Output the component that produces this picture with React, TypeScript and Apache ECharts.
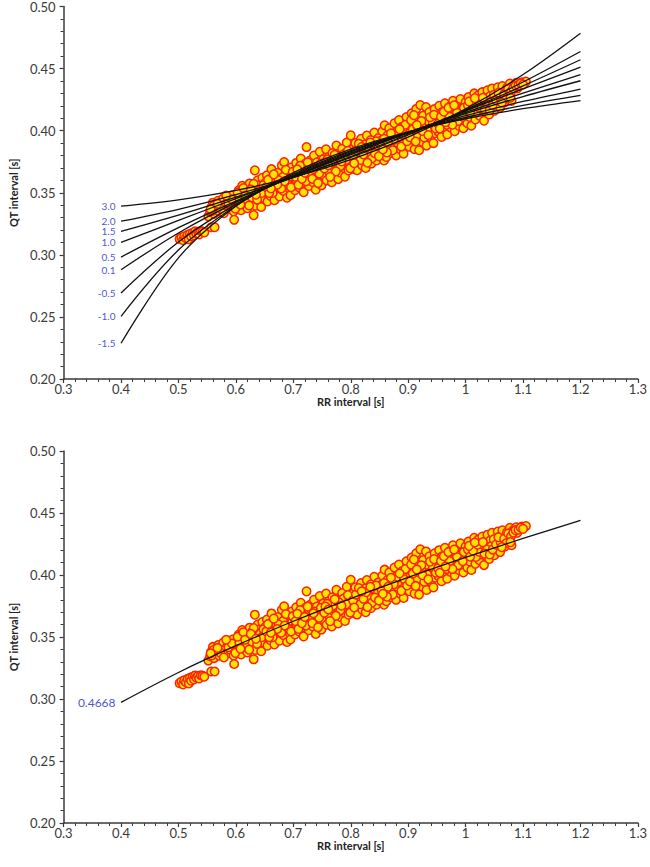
import React, { useEffect, useRef } from "react";
import * as echarts from "echarts";

// RR grid on which the fitted curves were read
const RR_GRID = [0.4, 0.5, 0.6, 0.7, 0.8, 0.9, 1.0, 1.1, 1.2];

// Top panel: curve labels (exponent) and QT values read at RR_GRID
const CURVE_LABELS = ["3.0", "2.0", "1.5", "1.0", "0.5", "0.1", "-0.5", "-1.0", "-1.5"];
const CURVE_3_0 = [0.3392, 0.3443, 0.3519, 0.3625, 0.3767, 0.3948, 0.4175, 0.4452, 0.4785];
const CURVE_2_0 = [0.3271, 0.3367, 0.3485, 0.3623, 0.3784, 0.3965, 0.4168, 0.4392, 0.4638];
const CURVE_1_5 = [0.3188, 0.3319, 0.3464, 0.3621, 0.3791, 0.3971, 0.4161, 0.4361, 0.4571];
const CURVE_1_0 = [0.31, 0.3277, 0.3453, 0.363, 0.3806, 0.3983, 0.4159, 0.4336, 0.4512];
const CURVE_0_5 = [0.2982, 0.3219, 0.3433, 0.363, 0.3813, 0.3985, 0.4148, 0.4303, 0.4451];
const CURVE_0_1 = [0.288, 0.3176, 0.3422, 0.3634, 0.3821, 0.3987, 0.4138, 0.4275, 0.4402];
const CURVE_M0_5 = [0.2693, 0.3103, 0.3406, 0.3641, 0.3831, 0.3988, 0.4121, 0.4235, 0.4335];
const CURVE_M1_0 = [0.2505, 0.3039, 0.3395, 0.3649, 0.3839, 0.3988, 0.4106, 0.4203, 0.4284];
const CURVE_M1_5 = [0.2288, 0.2976, 0.3391, 0.3662, 0.3852, 0.3991, 0.4096, 0.4177, 0.4242];
const CURVES = [CURVE_3_0, CURVE_2_0, CURVE_1_5, CURVE_1_0, CURVE_0_5, CURVE_0_1, CURVE_M0_5, CURVE_M1_0, CURVE_M1_5];

// Bottom panel: single fitted curve
const FIT_LABEL = "0.4668";
const FIT_CURVE = [0.2973, 0.3214, 0.343, 0.3627, 0.381, 0.3981, 0.4142, 0.4295, 0.4441];

// Axis ticks
const X_MIN = 0.3, X_MAX = 1.3, X_STEP = 0.1;
const Y_MIN = 0.2, Y_MAX = 0.5, Y_STEP = 0.05;

// Observed beats: [RR, QT]
const BEATS_A: number[][] = [
  [0.502,0.3128],[0.505,0.3140],[0.508,0.3118],[0.510,0.3150],[0.513,0.3135],[0.516,0.3162],[0.518,0.3125],[0.520,0.3170],[0.522,0.3148],[0.525,0.3180],[0.527,0.3158],[0.529,0.3190],[0.531,0.3172],[0.534,0.3186],[0.536,0.3165],[0.539,0.3192],[0.542,0.3188],[0.545,0.3180],[0.557,0.3222],[0.563,0.3222],
  [0.552,0.3310],[0.555,0.3345],[0.557,0.3380],[0.560,0.3420],[0.562,0.3330],[0.565,0.3365],[0.566,0.3400],[0.569,0.3435],[0.571,0.3350],[0.574,0.3390],[0.576,0.3420],[0.578,0.3455],[0.580,0.3370],[0.582,0.3405],[0.585,0.3368],[0.586,0.3440],[0.588,0.3460],[0.590,0.3395],[0.592,0.3425],[0.594,0.3480],[0.596,0.3350],[0.597,0.3282],[0.598,0.3410],[0.600,0.3450],
  [0.602,0.3385],[0.604,0.3470],[0.605,0.3520],[0.607,0.3420],[0.609,0.3360],[0.611,0.3556],[0.612,0.3445],[0.614,0.3490],[0.615,0.3400],[0.617,0.3530],[0.619,0.3460],[0.620,0.3375],[0.622,0.3505],[0.624,0.3575],[0.625,0.3425],[0.627,0.3480],[0.629,0.3545],[0.631,0.3320],[0.632,0.3455],[0.633,0.3680],[0.634,0.3395],[0.636,0.3510],[0.638,0.3600],[0.639,0.3440],[0.641,0.3560],[0.643,0.3480],[0.644,0.3385],[0.646,0.3620],[0.647,0.3530],[0.649,0.3455],
  [0.651,0.3580],[0.652,0.3500],[0.654,0.3640],[0.655,0.3430],[0.657,0.3545],[0.659,0.3610],[0.660,0.3475],[0.662,0.3690],[0.663,0.3560],[0.665,0.3520],[0.667,0.3440],[0.668,0.3625],[0.670,0.3590],[0.671,0.3500],[0.673,0.3660],[0.675,0.3545],[0.676,0.3470],[0.678,0.3610],[0.680,0.3720],[0.681,0.3580],[0.683,0.3515],[0.684,0.3748],[0.686,0.3640],[0.688,0.3560],[0.689,0.3460],[0.691,0.3680],[0.693,0.3600],[0.694,0.3530],[0.695,0.3480],[0.697,0.3705],[0.698,0.3625],[0.700,0.3570],
  [0.702,0.3650],[0.703,0.3520],[0.705,0.3740],[0.706,0.3595],[0.708,0.3680],[0.710,0.3545],[0.711,0.3625],[0.713,0.3775],[0.714,0.3700],[0.716,0.3580],[0.718,0.3505],[0.719,0.3650],[0.721,0.3735],[0.723,0.3868],[0.724,0.3610],[0.726,0.3690],[0.727,0.3555],[0.729,0.3760],[0.731,0.3640],[0.732,0.3720],[0.734,0.3585],[0.736,0.3800],[0.737,0.3670],[0.739,0.3525],[0.741,0.3745],[0.742,0.3620],[0.744,0.3700],[0.746,0.3830],[0.747,0.3595],[0.749,0.3560],[0.750,0.3680],
  [0.752,0.3770],[0.753,0.3640],[0.755,0.3720],[0.757,0.3850],[0.758,0.3600],[0.760,0.3690],[0.762,0.3790],[0.763,0.3660],[0.765,0.3745],[0.767,0.3585],[0.768,0.3820],[0.770,0.3710],[0.771,0.3640],[0.773,0.3775],[0.775,0.3880],[0.776,0.3690],[0.778,0.3610],[0.780,0.3800],[0.781,0.3735],[0.783,0.3660],[0.785,0.3855],[0.786,0.3760],[0.788,0.3700],[0.790,0.3630],[0.791,0.3820],[0.793,0.3905],[0.794,0.3740],[0.796,0.3680],[0.798,0.3790],[0.800,0.3962],
  [0.802,0.3720],[0.803,0.3850],[0.805,0.3770],[0.807,0.3690],[0.808,0.3900],[0.810,0.3810],[0.811,0.3681],[0.813,0.3745],[0.815,0.3870],[0.816,0.3800],[0.818,0.3935],[0.820,0.3720],[0.821,0.3840],[0.823,0.3780],[0.825,0.3890],[0.826,0.3700],[0.828,0.3960],[0.830,0.3815],[0.831,0.3755],[0.833,0.3870],[0.835,0.3925],[0.836,0.3735],[0.838,0.3845],[0.840,0.3790],[0.841,0.3985],[0.843,0.3880],[0.845,0.3760],[0.846,0.3830],[0.848,0.3940],[0.850,0.3870],
  [0.852,0.3790],[0.853,0.3920],[0.855,0.3995],[0.857,0.3840],[0.858,0.3760],[0.859,0.4043],[0.861,0.3900],[0.862,0.3788],[0.864,0.3960],[0.866,0.3855],[0.867,0.4020],[0.869,0.3910],[0.871,0.3820],[0.872,0.3975],[0.874,0.3880],[0.876,0.4060],[0.877,0.3940],[0.879,0.3800],[0.881,0.3995],[0.882,0.3900],[0.884,0.4085],[0.886,0.3850],[0.887,0.3960],[0.889,0.4030],[0.891,0.3920],[0.892,0.3815],[0.894,0.4000],[0.896,0.3880],[0.897,0.4110],[0.899,0.3960],
  [0.901,0.4045],[0.902,0.3870],[0.904,0.3990],[0.906,0.4140],[0.907,0.3930],[0.909,0.4070],[0.911,0.3850],[0.912,0.4010],[0.914,0.4175],[0.916,0.3960],[0.917,0.4095],[0.919,0.3842],[0.921,0.4207],[0.922,0.4030],[0.924,0.3910],[0.926,0.4120],[0.927,0.4060],[0.929,0.3980],[0.931,0.4190],[0.932,0.3880],[0.934,0.4080],[0.936,0.4015],[0.937,0.4150],[0.939,0.3945],[0.941,0.4100],[0.942,0.4035],[0.944,0.3900],[0.946,0.4175],[0.947,0.3979],[0.949,0.4070],
  [0.951,0.4120],[0.953,0.3990],[0.954,0.4200],[0.956,0.4050],[0.958,0.3950],[0.959,0.4150],[0.961,0.4085],[0.963,0.4010],[0.964,0.4220],[0.966,0.4110],[0.968,0.3970],[0.969,0.4165],[0.971,0.4060],[0.973,0.4195],[0.974,0.4025],[0.976,0.4130],[0.978,0.4240],[0.979,0.4075],[0.981,0.3995],[0.983,0.4170],[0.984,0.4100],[0.986,0.4210],[0.988,0.4040],[0.989,0.4145],[0.991,0.4255],[0.993,0.4080],[0.994,0.4185],[0.996,0.4020],[0.998,0.4130],[1.000,0.4230],
  [1.002,0.4160],[1.003,0.4060],[1.005,0.4270],[1.007,0.4110],[1.009,0.4200],[1.010,0.4040],[1.012,0.4245],[1.014,0.4150],[1.015,0.4300],[1.017,0.4090],[1.019,0.4215],[1.020,0.4180],[1.022,0.4285],[1.024,0.4120],[1.026,0.4235],[1.027,0.4165],[1.029,0.4310],[1.031,0.4200],[1.032,0.4080],[1.034,0.4260],[1.036,0.4150],[1.038,0.4325],[1.039,0.4225],[1.041,0.4130],[1.043,0.4280],[1.045,0.4190],[1.046,0.4340],[1.048,0.4245],[1.050,0.4160],
  [1.052,0.4290],[1.054,0.4210],[1.056,0.4350],[1.058,0.4260],[1.060,0.4185],[1.062,0.4320],[1.064,0.4360],[1.066,0.4240],[1.068,0.4228],[1.070,0.4300],[1.072,0.4345],[1.075,0.4275],[1.077,0.4380],[1.080,0.4240],[1.082,0.4355],[1.085,0.4368],[1.088,0.4385],[1.090,0.4340],[1.094,0.4375],[1.098,0.4390],[1.102,0.4385],[1.105,0.4395]
];

const BEATS_B: number[][] = [
  [0.558,0.3352],[0.573,0.3372],[0.561,0.3395],[0.587,0.3418],[0.579,0.3335],[0.593,0.3448],[0.568,0.3412],[0.599,0.3372],[0.583,0.3478],[0.556,0.3368],
  [0.606,0.3455],[0.618,0.3418],[0.603,0.3502],[0.628,0.3462],[0.613,0.3538],[0.637,0.3445],[0.623,0.3398],[0.642,0.3525],[0.608,0.3405],[0.631,0.3572],[0.645,0.3498],[0.616,0.3478],[0.626,0.3525],[0.648,0.3562],[0.635,0.3485],
  [0.653,0.3545],[0.669,0.3552],[0.656,0.3605],[0.682,0.3628],[0.664,0.3498],[0.692,0.3565],[0.674,0.3602],[0.687,0.3685],[0.658,0.3498],[0.679,0.3535],[0.699,0.3668],[0.666,0.3648],[0.685,0.3592],[0.696,0.3545],[0.672,0.3565],[0.661,0.3535],
  [0.704,0.3628],[0.717,0.3672],[0.709,0.3565],[0.728,0.3648],[0.722,0.3592],[0.738,0.3705],[0.712,0.3718],[0.745,0.3655],[0.733,0.3612],[0.748,0.3735],[0.707,0.3688],[0.725,0.3745],[0.743,0.3578],[0.715,0.3612],[0.735,0.3692],[0.720,0.3662],
  [0.754,0.3695],[0.769,0.3752],[0.759,0.3768],[0.782,0.3715],[0.774,0.3672],[0.797,0.3745],[0.764,0.3628],[0.787,0.3808],[0.779,0.3782],[0.799,0.3698],[0.756,0.3745],[0.772,0.3805],[0.792,0.3765],[0.761,0.3722],[0.784,0.3752],[0.795,0.3838],
  [0.804,0.3795],[0.817,0.3765],[0.809,0.3842],[0.832,0.3825],[0.822,0.3808],[0.847,0.3855],[0.814,0.3895],[0.837,0.3778],[0.827,0.3862],[0.844,0.3915],[0.806,0.3738],[0.829,0.3742],[0.842,0.3818],[0.819,0.3868],[0.834,0.3905],[0.849,0.3795],
  [0.854,0.3872],[0.868,0.3885],[0.858,0.3935],[0.883,0.3945],[0.873,0.3842],[0.893,0.3965],[0.863,0.3825],[0.888,0.3872],[0.878,0.3968],[0.898,0.3915],[0.856,0.3848],[0.875,0.3925],[0.895,0.4048],[0.865,0.3905],[0.885,0.4012],[0.870,0.3978],
  [0.903,0.3948],[0.918,0.4025],[0.908,0.4012],[0.933,0.4005],[0.923,0.4078],[0.943,0.4062],[0.913,0.3912],[0.938,0.4108],[0.928,0.3945],[0.948,0.4018],[0.905,0.4085],[0.925,0.3998],[0.945,0.4128],[0.915,0.4045],[0.935,0.3965],[0.910,0.4125],
  [0.952,0.4055],[0.967,0.4048],[0.957,0.4112],[0.982,0.4125],[0.972,0.4112],[0.992,0.4165],[0.962,0.4152],[0.987,0.4078],[0.977,0.4048],[0.997,0.4185],[0.955,0.4018],[0.970,0.4185],[0.985,0.4145],[0.965,0.4068],[0.980,0.4205],[0.995,0.4112],
  [1.004,0.4205],[1.018,0.4145],[1.008,0.4148],[1.028,0.4215],[1.023,0.4188],[1.044,0.4232],[1.013,0.4195],[1.037,0.4205],[1.033,0.4172],[1.049,0.4288],[1.006,0.4235],[1.021,0.4245],[1.042,0.4165],[1.016,0.4262],[1.030,0.4265],[1.047,0.4205],
  [1.053,0.4245],[1.061,0.4262],[1.057,0.4305],[1.067,0.4292],[1.071,0.4258],[1.074,0.4335],[1.079,0.4312],[1.083,0.4342],[1.087,0.4362],[1.092,0.4365],[1.096,0.4382],[1.100,0.4372],[1.063,0.4225],[1.078,0.4265]
];

const FONT = "Lato, 'Open Sans', sans-serif";
const AXIS_COLOR = "#3a3a3a";
const TEXT_COLOR = "#3a3a3a";
const LABEL_BLUE = "#2222c4";

function makeXAxis(gridIndex: number) {
  return {
    type: "value", gridIndex, min: X_MIN, max: X_MAX, interval: X_STEP,
    name: "RR interval [s]", nameLocation: "middle", nameGap: 15,
    nameTextStyle: { fontFamily: FONT, fontWeight: "bold", fontSize: 11, color: "#222" },
    axisLine: { show: true, onZero: false, lineStyle: { color: AXIS_COLOR, width: 1.5 } },
    axisTick: { show: true, length: 4, lineStyle: { color: AXIS_COLOR, width: 1.2 } },
    minorTick: { show: true, splitNumber: 5, length: 3, lineStyle: { color: AXIS_COLOR, width: 1 } },
    splitLine: { show: false },
    axisLabel: {
      margin: 3, fontFamily: FONT, fontSize: 13, color: TEXT_COLOR,
      formatter: (v: number) => String(+v.toFixed(1)),
    },
  };
}

function makeYAxis(gridIndex: number) {
  return {
    type: "value", gridIndex, min: Y_MIN, max: Y_MAX, interval: Y_STEP,
    name: "QT interval [s]", nameLocation: "middle", nameGap: 35,
    nameTextStyle: { fontFamily: FONT, fontWeight: "bold", fontSize: 11, color: "#222" },
    axisLine: { show: true, onZero: false, lineStyle: { color: AXIS_COLOR, width: 1.5 } },
    axisTick: { show: true, length: 4, lineStyle: { color: AXIS_COLOR, width: 1.2 } },
    minorTick: { show: true, splitNumber: 5, length: 3, lineStyle: { color: AXIS_COLOR, width: 1 } },
    splitLine: { show: false },
    axisLabel: {
      margin: 8, fontFamily: FONT, fontSize: 13, color: TEXT_COLOR,
      formatter: (v: number) => v.toFixed(2),
    },
  };
}

const BEATS = BEATS_A.concat(BEATS_B);

const beatStyle = {
  type: "scatter", symbol: "circle", symbolSize: 8.5, z: 2,
  itemStyle: { color: "#FFE400", borderColor: "#FF2200", borderWidth: 1.5, opacity: 1 },
  data: BEATS,
};

function curveSeries(values: number[], idx: number) {
  return {
    type: "line", xAxisIndex: idx, yAxisIndex: idx, z: 3, smooth: 0.35,
    showSymbol: false, symbol: "none",
    lineStyle: { color: "#111", width: 1.3 },
    data: RR_GRID.map((r, i) => [r, values[i]]),
  };
}

function labelSeries(points: { v: number[]; t: string }[], idx: number, fontSize: number) {
  return {
    type: "scatter", xAxisIndex: idx, yAxisIndex: idx, z: 4,
    symbol: "circle", symbolSize: 1, itemStyle: { color: "rgba(0,0,0,0)" },
    silent: true,
    label: {
      show: true, position: "left", distance: 5,
      fontFamily: FONT, fontSize, lineHeight: fontSize - 1, color: LABEL_BLUE,
      formatter: (p: any) => p.data.name,
    },
    data: points.map((p) => ({ value: p.v, name: p.t })),
  };
}

export default function App() {
  const ref = useRef<HTMLDivElement>(null);
  useEffect(() => {
    if (!ref.current) return;
    const chart = echarts.init(ref.current, undefined, { renderer: "svg" });
    const series: any[] = [];
    series.push({ ...beatStyle, xAxisIndex: 0, yAxisIndex: 0 });
    CURVES.forEach((c) => series.push(curveSeries(c, 0)));
    series.push(labelSeries(CURVES.map((c, i) => ({ v: [RR_GRID[0], c[0]], t: CURVE_LABELS[i] })), 0, 10));
    series.push({ ...beatStyle, xAxisIndex: 1, yAxisIndex: 1 });
    series.push(curveSeries(FIT_CURVE, 1));
    series.push(labelSeries([{ v: [RR_GRID[0], FIT_CURVE[0]], t: FIT_LABEL }], 1, 12));

    chart.setOption({
      animation: false,
      backgroundColor: "#ffffff",
      grid: [
        { left: 50, top: 6, width: 590, height: 373 },
        { left: 50, top: 451, width: 590, height: 372 },
      ],
      xAxis: [makeXAxis(0), makeXAxis(1)],
      yAxis: [makeYAxis(0), makeYAxis(1)],
      series,
    });
    return () => chart.dispose();
  }, []);
  return (
    <div
      ref={ref}
      style={{ position: "absolute", left: 0, top: 0, width: 650, height: 867, background: "#fff" }}
    />
  );
}
